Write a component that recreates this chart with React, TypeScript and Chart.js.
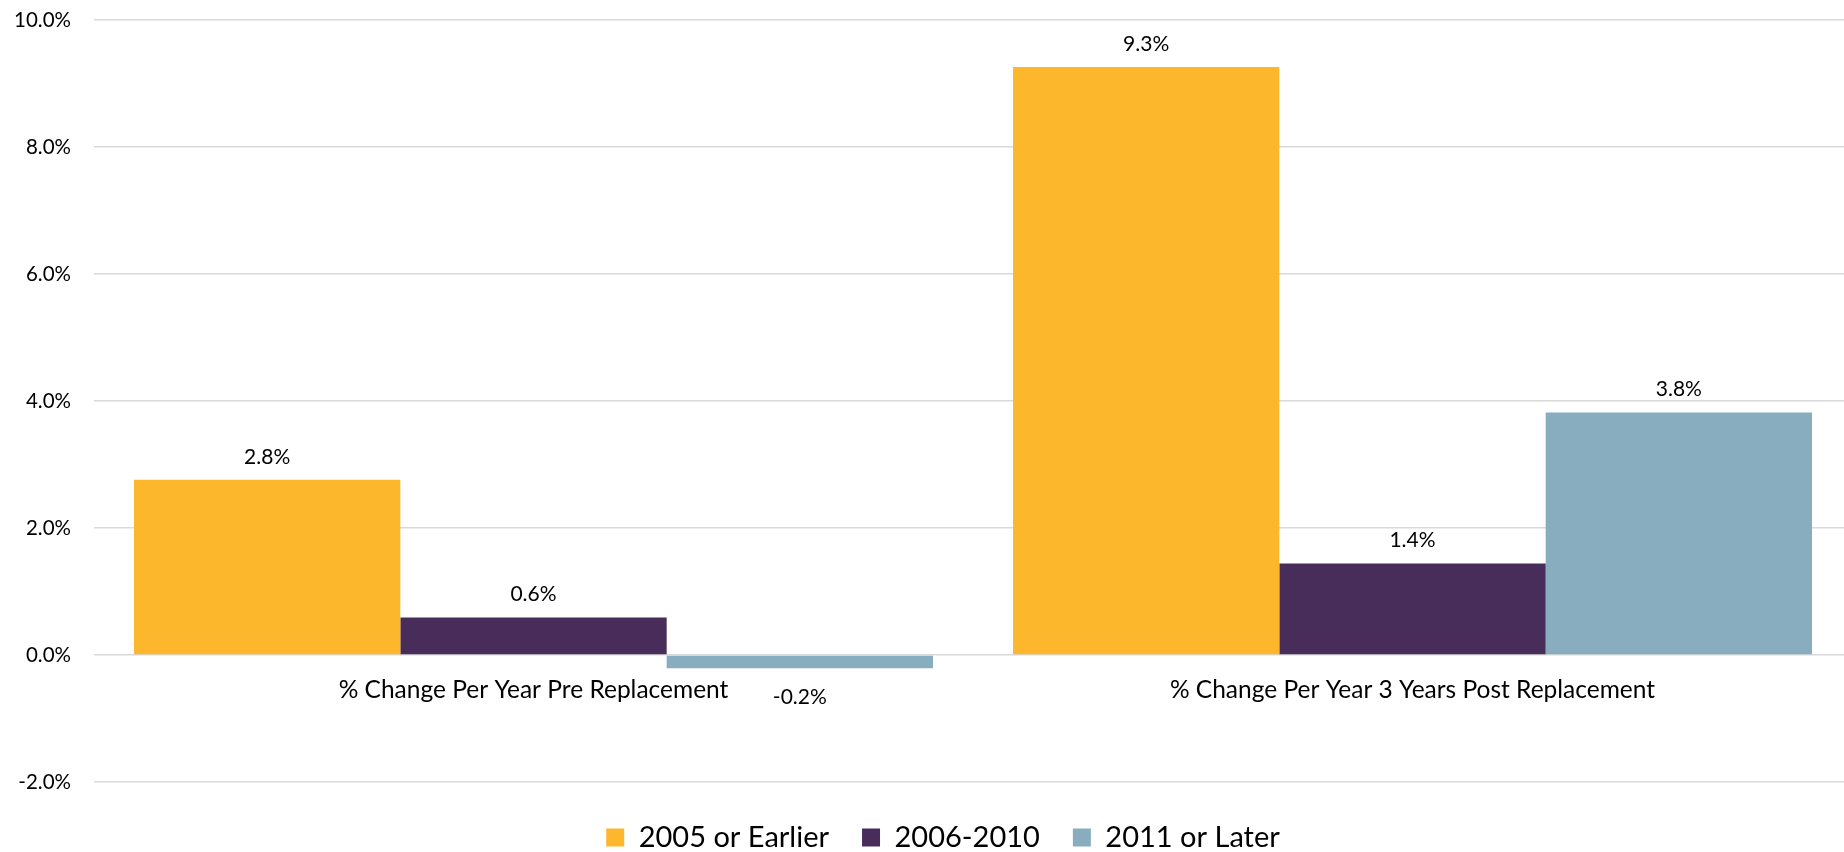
import React, { useEffect, useRef } from 'react';
import { Chart, registerables } from 'chart.js';

Chart.register(...registerables);

// ---- data ----
const categories = [
  '% Change Per Year Pre Replacement',
  '% Change Per Year 3 Years Post Replacement',
];
const seriesNames = ['2005 or Earlier', '2006-2010', '2011 or Later'];
const series2005OrEarlier = [2.76, 9.26];
const series2006To2010 = [0.59, 1.44];
const series2011OrLater = [-0.21, 3.82];
const seriesColors = ['#FDB72D', '#482C5A', '#88ADBF'];
const yTickValues = [-2, 0, 2, 4, 6, 8, 10];

const FONT = 'Lato';

const valueLabelPlugin = {
  id: 'valueLabels',
  afterLayout(chart: any) {
    // centre the legend on the original (wider) chart frame and drop it a little
    if (chart.legend) {
      chart.legend.left = 34;
      chart.legend.top += 8;
    }
  },
  afterDatasetsDraw(chart: any) {
    const ctx = chart.ctx;
    ctx.save();
    ctx.font = `21px ${FONT}`;
    ctx.fillStyle = '#000000';
    ctx.textAlign = 'center';
    ctx.textBaseline = 'middle';
    chart.data.datasets.forEach((ds: any, i: number) => {
      const meta = chart.getDatasetMeta(i);
      meta.data.forEach((el: any, j: number) => {
        const v = ds.data[j] as number;
        const y = v >= 0 ? el.y - 23 : el.y + 29;
        ctx.fillText(v.toFixed(1) + '%', el.x, y);
      });
    });
    ctx.restore();
  },
};

export default function App() {
  const ref = useRef<HTMLCanvasElement | null>(null);

  useEffect(() => {
    if (!ref.current) return;
    const allSeries = [series2005OrEarlier, series2006To2010, series2011OrLater];
    const chart = new Chart(ref.current, {
      type: 'bar',
      data: {
        labels: categories,
        datasets: allSeries.map((d, i) => ({
          label: seriesNames[i],
          data: d,
          backgroundColor: seriesColors[i],
          borderWidth: 0,
          categoryPercentage: 0.909,
          barPercentage: 1.0,
        })),
      },
      options: {
        responsive: false,
        animation: false,
        layout: { padding: { left: 0, right: 68, top: 20, bottom: -2 } },
        plugins: {
          tooltip: { enabled: false },
          legend: {
            position: 'bottom',
            labels: {
              boxWidth: 18,
              boxHeight: 18,
              padding: 33,
              color: '#000000',
              font: { family: FONT, size: 29 },
            },
          },
        },
        scales: {
          x: {
            type: 'category',
            position: { y: 0 } as any,
            grid: { display: false, drawTicks: false },
            border: { display: false },
            ticks: {
              color: '#000000',
              font: { family: FONT, size: 24.5 },
              padding: 20,
              maxRotation: 0,
              autoSkip: false,
            },
          },
          y: {
            min: -2,
            max: 10,
            grid: { color: '#D9D9D9', lineWidth: 1.5, drawTicks: false },
            border: { display: false },
            afterBuildTicks: (s: any) => {
              s.ticks = yTickValues.map((v) => ({ value: v }));
            },
            ticks: {
              color: '#000000',
              font: { family: FONT, size: 20.5 },
              padding: 23,
              callback: (v: any) => Number(v).toFixed(1) + '%',
            },
            afterFit: (s: any) => {
              s.width = 94;
              s.paddingTop = 12;
              s.paddingBottom = 12;
            },
          },
        },
      },
      plugins: [valueLabelPlugin],
    });
    return () => chart.destroy();
  }, []);

  return (
    <div
      style={{
        position: 'fixed',
        left: 0,
        top: 0,
        width: '100vw',
        height: '100vh',
        overflow: 'hidden',
        background: '#ffffff',
      }}
    >
      <canvas
        ref={ref}
        width={1920}
        height={852}
        style={{ display: 'block', width: 1920, height: 852 }}
      />
    </div>
  );
}
